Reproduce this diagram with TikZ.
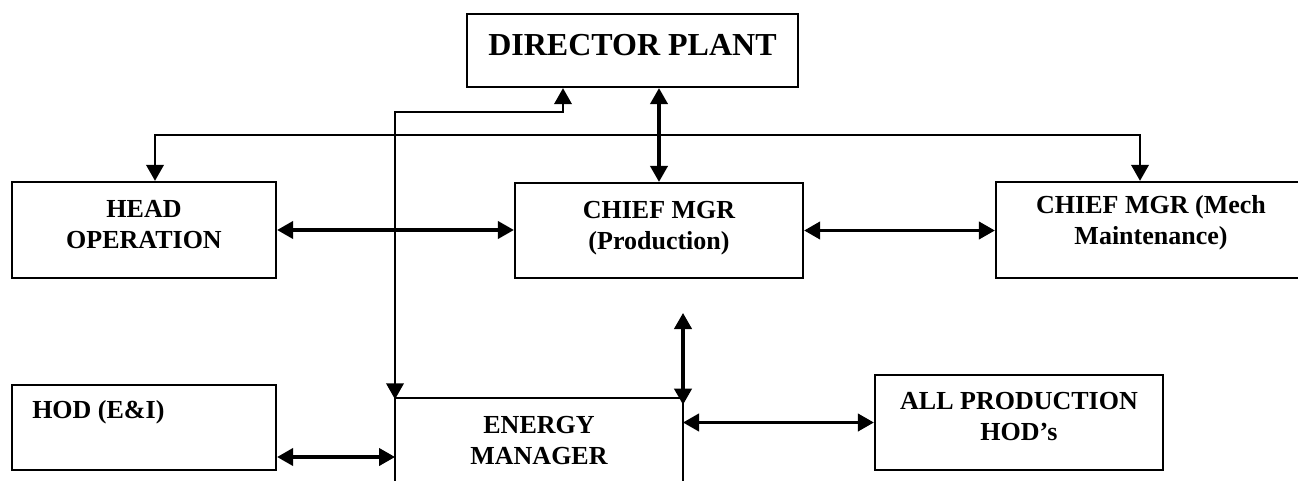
\documentclass[tikz,border=0pt]{standalone}
\usepackage{fontspec}
\setmainfont{Liberation Serif}
\usetikzlibrary{arrows.meta}
\begin{document}
\begin{tikzpicture}[x=0.75pt,y=-0.75pt,
  box/.style={draw, line width=1.7pt, inner sep=0pt, rectangle},
  txt/.style={align=center, font=\fontsize{19.5}{23.25}\selectfont\bfseries, inner sep=0pt},
  arr/.style={line width=2.3pt, {Triangle[length=12pt,width=13pt]}-{Triangle[length=12pt,width=13pt]}},
  thinline/.style={line width=1.5pt}]
\useasboundingbox (0,0) rectangle (1298,481);
% boxes
\node[box, minimum width=248.25pt, minimum height=54.75pt] (dir) at (632.5,50.5) {};
\node[box, minimum width=198pt, minimum height=72pt] (head) at (144,230) {};
\node[box, minimum width=216pt, minimum height=71.25pt] (prod) at (659,230.5) {};
\node[box, minimum width=232.5pt, minimum height=72pt] (mech) at (1151,230) {};
\node[box, minimum width=198pt, minimum height=63.75pt] (hod) at (144,427.5) {};
\node[box, minimum width=216pt, minimum height=71.25pt] (allp) at (1019,422.5) {};
% energy manager open box
\coordinate (emTL) at (395,398);
\coordinate (emTR) at (683,398);
\coordinate (emBL) at (395,481);
\coordinate (emBR) at (683,481);
\draw[thinline] (emBL) -- (emTL) -- (emTR) -- (emBR);
% texts
\node[inner sep=0pt, font=\fontsize{24}{28}\selectfont\bfseries] (dirT) at (632.5,45) {DIRECTOR PLANT};
\node[txt] (headT) at (144,225) {HEAD\\OPERATION};
\node[txt] (prodT) at (659,228) {CHIEF MGR\\(Production)};
\node[txt] (mechT) at (1151,223) {CHIEF MGR (Mech\\Maintenance)};
\node[txt] (allpT) at (1019,417) {ALL PRODUCTION\\HOD’s};
\node[txt, anchor=west] (hodT) at (32,412) {HOD (E\&I)};
\node[txt] (emT) at (539,441) {ENERGY\\MANAGER};
% connectors
\coordinate (k1) at (563,112);
\draw[arr, line width=1.9pt] (dir.south -| k1) -- (k1) -- (k1 -| emTL) -- ([yshift=-1pt]emTL);
\draw[arr] (dir.south -| prod.north) -- (prod.north);
\coordinate (h1) at (155,135);
\coordinate (h2) at (1140,135);
\draw[arr, line width=2pt] (h1 |- head.north) -- (h1) -- (h2) -- (h2 |- mech.north);
\draw[arr] (head.east) -- (prod.west |- head.east);
\draw[arr] (prod.east) -- (mech.west |- prod.east);
\coordinate (up) at (683,313);
\draw[arr] (up) -- ([yshift=-5pt]emTR);
\draw[arr] (allp.west -| emTR) -- (allp.west);
\coordinate (c8) at (395,457);
\draw[arr] (c8 -| hod.east) -- (c8);
\end{tikzpicture}
\end{document}
